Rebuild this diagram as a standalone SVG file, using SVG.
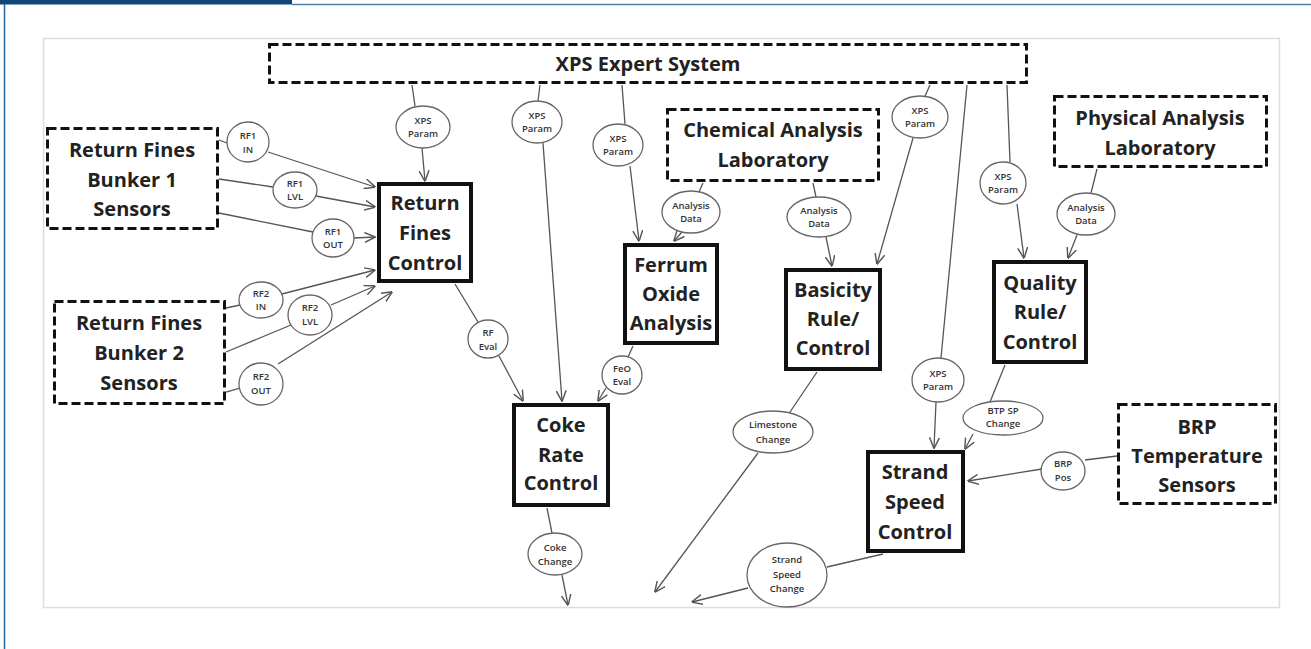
<svg xmlns="http://www.w3.org/2000/svg" width="1311" height="649" viewBox="0 0 1311 649">
<style>
.bt{font-family:"Open Sans","Liberation Sans",sans-serif;font-weight:bold;font-size:20px;fill:#222;text-anchor:middle}
.st{font-family:"Open Sans","Liberation Sans",sans-serif;font-weight:600;font-size:9.5px;fill:#333;text-anchor:middle}
.sb{fill:#fff;stroke:#111;stroke-width:4}
.db{fill:#fff;stroke:#111;stroke-width:3;stroke-dasharray:9 4}
.el{fill:#fff;stroke:#666;stroke-width:1.3}
.ln{stroke:#555;stroke-width:1.3;fill:none}
.ar{stroke:#555;stroke-width:1.3;fill:none;marker-end:url(#ah)}
</style>
<defs>
<marker id="ah" viewBox="0 0 10 10" refX="9.5" refY="5" markerWidth="11" markerHeight="11" orient="auto" markerUnits="userSpaceOnUse">
<path d="M0,0.5 L10,5 L0,9.5" fill="none" stroke="#555" stroke-width="1.3"/>
</marker>
</defs>
<rect width="1311" height="649" fill="#fff"/>
<g id="frame">
<rect x="0" y="0" width="292" height="4.5" fill="#0d4677"/>
<line x1="292" y1="4.5" x2="1311" y2="4.5" stroke="#4f7fa8" stroke-width="1.5"/>
<line x1="4.5" y1="4" x2="4.5" y2="649" stroke="#2064a0" stroke-width="1.5"/>
<rect x="43.5" y="38.5" width="1236" height="569" fill="#fff" stroke="#ddd" stroke-width="1.5"/>
</g>
<g id="connectors">
<line class="ln" x1="412" y1="85" x2="415" y2="106"/><line class="ar" x1="422" y1="148" x2="425" y2="181"/>
<line class="ln" x1="540" y1="85" x2="538" y2="101"/><line class="ar" x1="543" y1="143" x2="562" y2="401"/>
<line class="ln" x1="622" y1="85" x2="625" y2="124"/><line class="ar" x1="630" y1="166" x2="639" y2="241"/>
<line class="ln" x1="930" y1="85" x2="925" y2="96"/><line class="ar" x1="913" y1="138" x2="877" y2="264"/>
<line class="ln" x1="967" y1="85" x2="941" y2="358"/><line class="ar" x1="936" y1="402" x2="934" y2="448"/>
<line class="ln" x1="1007" y1="85" x2="1010" y2="162"/><line class="ar" x1="1017" y1="204" x2="1024" y2="258"/>
<line class="ln" x1="703" y1="183" x2="699" y2="192"/><line class="ar" x1="682" y1="232" x2="674" y2="241"/>
<line class="ln" x1="813" y1="183" x2="816" y2="197"/><line class="ar" x1="826" y1="237" x2="832" y2="266"/>
<line class="ln" x1="1097" y1="169" x2="1091" y2="193"/><line class="ar" x1="1077" y1="235" x2="1068" y2="258"/>
<line class="ln" x1="219" y1="140" x2="227" y2="143"/><line class="ar" x1="268" y1="152" x2="375" y2="187"/>
<line class="ln" x1="219" y1="179" x2="273" y2="187"/><line class="ar" x1="316" y1="196" x2="375" y2="207"/>
<line class="ln" x1="219" y1="213" x2="313" y2="232"/><line class="ar" x1="354" y1="238" x2="375" y2="237"/>
<line class="ln" x1="226" y1="308" x2="240" y2="305"/><line class="ar" x1="282" y1="294" x2="375" y2="270"/>
<line class="ln" x1="226" y1="352" x2="291" y2="325"/><line class="ar" x1="331" y1="305" x2="375" y2="286"/>
<line class="ln" x1="226" y1="392" x2="240" y2="388"/><line class="ar" x1="278" y1="364" x2="392" y2="292"/>
<line class="ln" x1="455" y1="284" x2="478" y2="322"/><line class="ar" x1="499" y1="356" x2="523" y2="401"/>
<line class="ln" x1="633" y1="346" x2="628" y2="357"/><line class="ar" x1="606" y1="388" x2="598" y2="401"/>
<line class="ln" x1="547" y1="508" x2="552" y2="533"/><line class="ar" x1="562" y1="575" x2="568" y2="605"/>
<line class="ln" x1="817" y1="372" x2="790" y2="412"/><line class="ar" x1="758" y1="453" x2="655" y2="592"/>
<line class="ln" x1="1005" y1="365" x2="990" y2="402"/><line class="ar" x1="973" y1="434" x2="965" y2="449"/>
<line class="ln" x1="1117" y1="456" x2="1085" y2="460"/><line class="ar" x1="1042" y1="469" x2="968" y2="481"/>
<line class="ln" x1="883" y1="554" x2="827" y2="567"/><line class="ar" x1="748" y1="588" x2="692" y2="602"/>
</g>
<g id="xps"><rect class="db" x="269.5" y="44.5" width="757" height="38"/><text class="bt" x="648" y="71">XPS Expert System</text></g>
<g id="rf1"><rect class="db" x="47.5" y="128.5" width="170" height="100"/><text class="bt" x="132" y="157">Return Fines</text><text class="bt" x="132" y="187">Bunker 1</text><text class="bt" x="132" y="216">Sensors</text></g>
<g id="rf2"><rect class="db" x="54.5" y="301.5" width="170" height="102"/><text class="bt" x="139" y="330">Return Fines</text><text class="bt" x="139" y="360">Bunker 2</text><text class="bt" x="139" y="390">Sensors</text></g>
<g id="chem"><rect class="db" x="667.5" y="109.5" width="211" height="71"/><text class="bt" x="773" y="137">Chemical Analysis</text><text class="bt" x="773" y="167">Laboratory</text></g>
<g id="phys"><rect class="db" x="1054.5" y="96.5" width="212" height="70"/><text class="bt" x="1160" y="125">Physical Analysis</text><text class="bt" x="1160" y="155">Laboratory</text></g>
<g id="brp"><rect class="db" x="1118.5" y="404.5" width="157" height="99"/><text class="bt" x="1197" y="434">BRP</text><text class="bt" x="1197" y="463">Temperature</text><text class="bt" x="1197" y="492">Sensors</text></g>
<g id="rfc"><rect class="sb" x="379" y="184" width="92" height="97"/><text class="bt" x="425" y="210">Return</text><text class="bt" x="425" y="240">Fines</text><text class="bt" x="425" y="270">Control</text></g>
<g id="ferrum"><rect class="sb" x="625" y="245" width="92" height="98"/><text class="bt" x="671" y="272">Ferrum</text><text class="bt" x="671" y="301">Oxide</text><text class="bt" x="671" y="330">Analysis</text></g>
<g id="basicity"><rect class="sb" x="786" y="270" width="94" height="99"/><text class="bt" x="833" y="297">Basicity</text><text class="bt" x="833" y="326">Rule/</text><text class="bt" x="833" y="355">Control</text></g>
<g id="quality"><rect class="sb" x="994" y="262" width="92" height="100"/><text class="bt" x="1040" y="290">Quality</text><text class="bt" x="1040" y="319">Rule/</text><text class="bt" x="1040" y="349">Control</text></g>
<g id="coke"><rect class="sb" x="514" y="405" width="94" height="100"/><text class="bt" x="561" y="432">Coke</text><text class="bt" x="561" y="462">Rate</text><text class="bt" x="561" y="490">Control</text></g>
<g id="strand"><rect class="sb" x="868" y="452" width="95" height="99"/><text class="bt" x="915" y="479">Strand</text><text class="bt" x="915" y="509">Speed</text><text class="bt" x="915" y="539">Control</text></g>
<g id="xps-param-1"><ellipse class="el" cx="423" cy="127" rx="27" ry="21"/><text class="st" x="423" y="124">XPS</text><text class="st" x="423" y="137">Param</text></g>
<g id="xps-param-2"><ellipse class="el" cx="537" cy="122" rx="25" ry="21"/><text class="st" x="537" y="119">XPS</text><text class="st" x="537" y="132">Param</text></g>
<g id="xps-param-3"><ellipse class="el" cx="618" cy="145" rx="25" ry="21"/><text class="st" x="618" y="142">XPS</text><text class="st" x="618" y="155">Param</text></g>
<g id="xps-param-4"><ellipse class="el" cx="920" cy="117" rx="28" ry="21"/><text class="st" x="920" y="114">XPS</text><text class="st" x="920" y="127">Param</text></g>
<g id="xps-param-5"><ellipse class="el" cx="938" cy="380" rx="26" ry="22"/><text class="st" x="938" y="377">XPS</text><text class="st" x="938" y="390">Param</text></g>
<g id="xps-param-6"><ellipse class="el" cx="1003" cy="183" rx="23" ry="21"/><text class="st" x="1003" y="180">XPS</text><text class="st" x="1003" y="193">Param</text></g>
<g id="analysis-data-1"><ellipse class="el" cx="691" cy="212" rx="29" ry="21"/><text class="st" x="691" y="209">Analysis</text><text class="st" x="691" y="222">Data</text></g>
<g id="analysis-data-2"><ellipse class="el" cx="819" cy="217" rx="32" ry="20"/><text class="st" x="819" y="214">Analysis</text><text class="st" x="819" y="227">Data</text></g>
<g id="analysis-data-3"><ellipse class="el" cx="1086" cy="214" rx="29" ry="21"/><text class="st" x="1086" y="211">Analysis</text><text class="st" x="1086" y="224">Data</text></g>
<g id="rf1-in"><ellipse class="el" cx="248" cy="142" rx="21" ry="20"/><text class="st" x="248" y="139">RF1</text><text class="st" x="248" y="153">IN</text></g>
<g id="rf1-lvl"><ellipse class="el" cx="295" cy="190" rx="22" ry="18"/><text class="st" x="295" y="187">RF1</text><text class="st" x="295" y="200">LVL</text></g>
<g id="rf1-out"><ellipse class="el" cx="333" cy="238" rx="21" ry="19"/><text class="st" x="333" y="235">RF1</text><text class="st" x="333" y="248">OUT</text></g>
<g id="rf2-in"><ellipse class="el" cx="261" cy="300" rx="22" ry="18"/><text class="st" x="261" y="297">RF2</text><text class="st" x="261" y="310">IN</text></g>
<g id="rf2-lvl"><ellipse class="el" cx="310" cy="315" rx="22" ry="20"/><text class="st" x="310" y="311">RF2</text><text class="st" x="310" y="325">LVL</text></g>
<g id="rf2-out"><ellipse class="el" cx="261" cy="384" rx="22" ry="21"/><text class="st" x="261" y="380">RF2</text><text class="st" x="261" y="394">OUT</text></g>
<g id="rf-eval"><ellipse class="el" cx="488" cy="339" rx="20" ry="19"/><text class="st" x="488" y="336">RF</text><text class="st" x="488" y="350">Eval</text></g>
<g id="feo-eval"><ellipse class="el" cx="622" cy="375" rx="20" ry="19"/><text class="st" x="622" y="372">FeO</text><text class="st" x="622" y="385">Eval</text></g>
<g id="coke-change"><ellipse class="el" cx="555" cy="554" rx="27" ry="21"/><text class="st" x="555" y="551">Coke</text><text class="st" x="555" y="565">Change</text></g>
<g id="limestone-change"><ellipse class="el" cx="773" cy="432" rx="40" ry="21"/><text class="st" x="773" y="428">Limestone</text><text class="st" x="773" y="443">Change</text></g>
<g id="btp-sp-change"><ellipse class="el" cx="1003" cy="418" rx="40" ry="17"/><text class="st" x="1003" y="414">BTP SP</text><text class="st" x="1003" y="427">Change</text></g>
<g id="brp-pos"><ellipse class="el" cx="1063" cy="471" rx="22" ry="19"/><text class="st" x="1063" y="467">BRP</text><text class="st" x="1063" y="481">Pos</text></g>
<g id="strand-speed-change"><ellipse class="el" cx="787" cy="575" rx="40" ry="32"/><text class="st" x="787" y="563">Strand</text><text class="st" x="787" y="578">Speed</text><text class="st" x="787" y="592">Change</text></g>
</svg>
